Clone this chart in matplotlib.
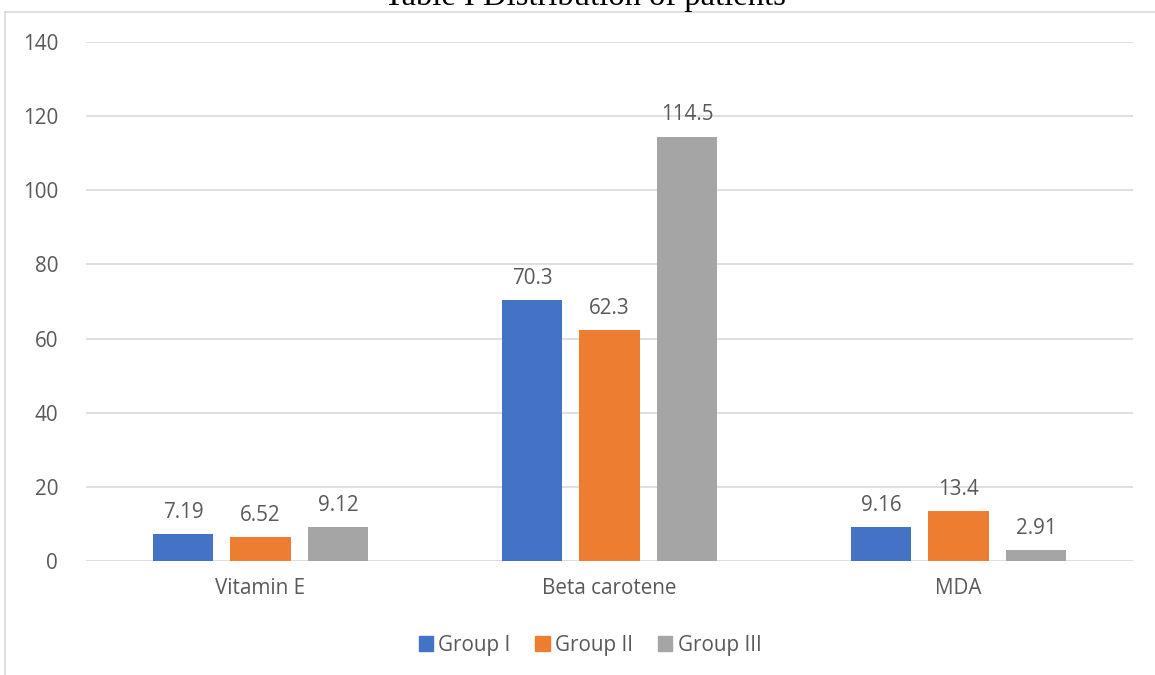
import numpy as np
import matplotlib.pyplot as plt
from matplotlib.patches import Rectangle
from matplotlib.lines import Line2D

# datos
categories = ["Vitamin E", "Beta carotene", "MDA"]
groups = ["Group I", "Group II", "Group III"]
group1 = [7.19, 70.3, 9.16]
group2 = [6.52, 62.3, 13.4]
group3 = [9.12, 114.5, 2.91]
labels1 = ["7.19", "70.3", "9.16"]
labels2 = ["6.52", "62.3", "13.4"]
labels3 = ["9.12", "114.5", "2.91"]
yticks = [0, 20, 40, 60, 80, 100, 120, 140]

colors = ["#4472C4", "#ED7D31", "#A5A5A5"]
txt = "#595959"
W, H = 1155, 675
fs = 14.9

plt.rcParams["font.family"] = ["Open Sans", "DejaVu Sans"]

fig = plt.figure(figsize=(W / 100, H / 100), dpi=100)

# marco del grafico (recortado a la derecha y abajo)
fig.add_artist(Line2D([5 / W, 5 / W], [0, 1 - 12 / H], color="#D9D9D9", lw=1.2))
fig.add_artist(Line2D([5 / W, 1], [1 - 12 / H, 1 - 12 / H], color="#D9D9D9", lw=1.2))

# titulo cortado arriba, como en el original
fig.text(585 / W, 1 - 5 / H, "Table I Distribution of patients", ha="center", va="baseline",
         fontsize=23.5, family="Liberation Serif", color="black")

x0, x1 = 86, 1133
y0, y1 = 561, 42
ax = fig.add_axes([x0 / W, 1 - y0 / H, (x1 - x0) / W, (y0 - y1) / H])

x = np.arange(len(categories))
bw = 0.172
off = 0.222
series = [(group1, labels1), (group2, labels2), (group3, labels3)]
for i, (vals, labs) in enumerate(series):
    pos = x + (i - 1) * off
    ax.bar(pos, vals, width=bw, color=colors[i], label=groups[i], zorder=3)
    for p, v, l in zip(pos, vals, labs):
        ax.annotate(l, (p, v), xytext=(0, 8), textcoords="offset points",
                    ha="center", va="bottom", fontsize=fs, color=txt)

ax.set_xlim(-0.5, 2.5)
ax.set_ylim(0, 140)
ax.set_yticks(yticks)
ax.set_xticks(x)
ax.set_xticklabels(categories)
ax.grid(axis="y", color="#D9D9D9", lw=1.2, zorder=0)
ax.tick_params(length=0, labelsize=fs, labelcolor=txt)
ax.tick_params(axis="y", pad=20)
ax.tick_params(axis="x", pad=12)
for s in ax.spines.values():
    s.set_visible(False)

handles = [Rectangle((0, 0), 1, 1, color=c) for c in colors]
fig.legend(handles, groups, loc="center", bbox_to_anchor=(590 / W, 1 - 645 / H), ncol=3,
           frameon=False, fontsize=fs, labelcolor=txt, handlelength=0.7, handleheight=0.7,
           handletextpad=0.25, columnspacing=1.2)

fig.savefig("out.png", dpi=100)
